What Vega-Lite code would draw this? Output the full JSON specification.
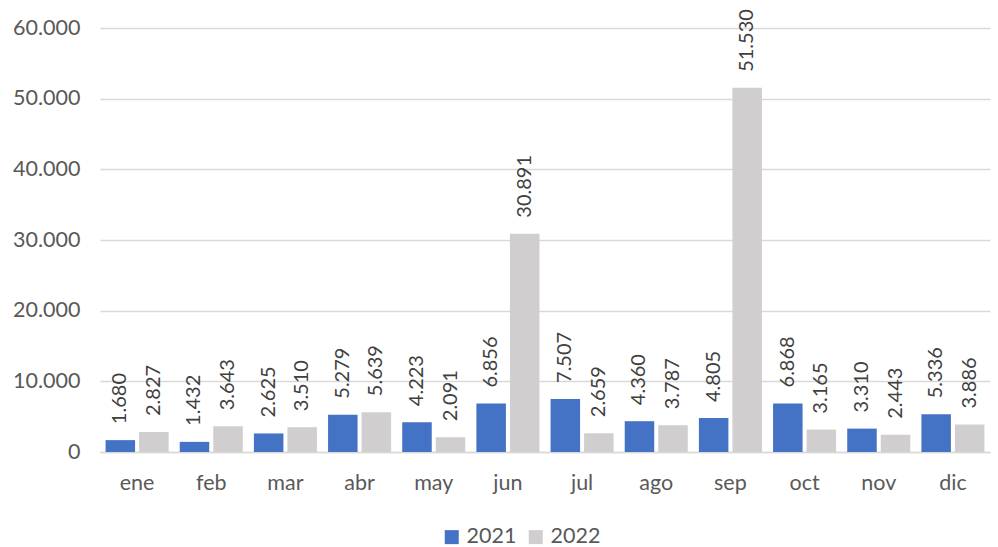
{
  "$schema": "https://vega.github.io/schema/vega-lite/v6.json",
  "width": 890,
  "height": 424,
  "autosize": {"type": "none"},
  "padding": {"left": 100, "top": 28, "right": 8, "bottom": 95},
  "background": "white",
  "config": {
    "locale": {"number": {"decimal": ",", "thousands": ".", "grouping": [3], "currency": ["", " €"]}},
    "font": "Lato",
    "view": {"stroke": null},
    "axis": {"labelFont": "Lato", "labelColor": "#595959", "labelFontSize": 21.5}
  },
  "data": {
    "values": [
      {"mes": "ene", "anio": "2021", "valor": 1680},
      {"mes": "ene", "anio": "2022", "valor": 2827},
      {"mes": "feb", "anio": "2021", "valor": 1432},
      {"mes": "feb", "anio": "2022", "valor": 3643},
      {"mes": "mar", "anio": "2021", "valor": 2625},
      {"mes": "mar", "anio": "2022", "valor": 3510},
      {"mes": "abr", "anio": "2021", "valor": 5279},
      {"mes": "abr", "anio": "2022", "valor": 5639},
      {"mes": "may", "anio": "2021", "valor": 4223},
      {"mes": "may", "anio": "2022", "valor": 2091},
      {"mes": "jun", "anio": "2021", "valor": 6856},
      {"mes": "jun", "anio": "2022", "valor": 30891},
      {"mes": "jul", "anio": "2021", "valor": 7507},
      {"mes": "jul", "anio": "2022", "valor": 2659},
      {"mes": "ago", "anio": "2021", "valor": 4360},
      {"mes": "ago", "anio": "2022", "valor": 3787},
      {"mes": "sep", "anio": "2021", "valor": 4805},
      {"mes": "sep", "anio": "2022", "valor": 51530},
      {"mes": "oct", "anio": "2021", "valor": 6868},
      {"mes": "oct", "anio": "2022", "valor": 3165},
      {"mes": "nov", "anio": "2021", "valor": 3310},
      {"mes": "nov", "anio": "2022", "valor": 2443},
      {"mes": "dic", "anio": "2021", "valor": 5336},
      {"mes": "dic", "anio": "2022", "valor": 3886}
    ]
  },
  "encoding": {
    "x": {
      "field": "mes", "type": "nominal", "sort": null,
      "scale": {"paddingInner": 0.15, "paddingOuter": 0.075},
      "axis": {"title": null, "labelAngle": 0, "ticks": false, "domainColor": "#D9D9D9", "domainWidth": 1.5, "labelPadding": 20}
    },
    "xOffset": {"field": "anio", "type": "nominal", "scale": {"paddingInner": 0.12}},
    "y": {
      "field": "valor", "type": "quantitative",
      "scale": {"domain": [0, 60000]},
      "axis": {"title": null, "values": [0, 10000, 20000, 30000, 40000, 50000, 60000], "format": ",d", "domain": false, "ticks": false, "gridColor": "#D9D9D9", "gridWidth": 1.5, "labelPadding": 20}
    }
  },
  "layer": [
    {
      "mark": {"type": "bar"},
      "encoding": {
        "color": {
          "field": "anio", "type": "nominal",
          "scale": {"domain": ["2021", "2022"], "range": ["#4472C4", "#D0CECE"]},
          "legend": {"title": null, "orient": "none", "legendX": 341, "legendY": 498, "direction": "horizontal", "symbolType": "square", "symbolSize": 196, "labelFontSize": 21.5, "labelColor": "#595959", "labelFont": "Lato", "columnPadding": 8, "labelOffset": 4, "symbolStrokeWidth": 0}
        }
      }
    },
    {
      "mark": {"type": "text", "angle": 270, "align": "left", "baseline": "middle", "dx": 16, "fontSize": 20, "color": "#404040", "font": "Lato"},
      "encoding": {"text": {"field": "valor", "type": "quantitative", "format": ",d"}}
    }
  ]
}
